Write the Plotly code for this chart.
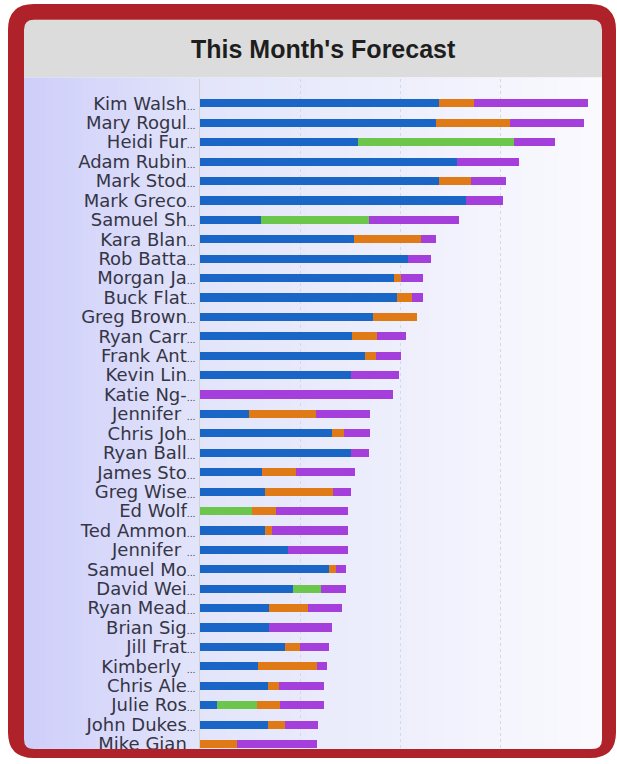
import plotly.graph_objects as go

# ---- data -------------------------------------------------------------
names = ["Kim Walsh", "Mary Rogul", "Heidi Fur", "Adam Rubin", "Mark Stod",
         "Mark Greco", "Samuel Sh", "Kara Blan", "Rob Batta", "Morgan Ja",
         "Buck Flat", "Greg Brown", "Ryan Carr", "Frank Ant", "Kevin Lin",
         "Katie Ng-", "Jennifer ", "Chris Joh", "Ryan Ball", "James Sto",
         "Greg Wise", "Ed Wolf", "Ted Ammon", "Jennifer ", "Samuel Mo",
         "David Wei", "Ryan Mead", "Brian Sig", "Jill Frat", "Kimberly ",
         "Chris Ale", "Julie Ros", "John Dukes", "Mike Gian"]

closed = [239, 236, 158, 257, 239, 266, 61, 154, 208, 194,
          197, 173, 152, 165, 151, 0, 49, 132, 151, 62,
          65, 0, 65, 88, 129, 93, 69, 69, 85, 58,
          68, 17, 68, 0]
commit = [0, 0, 156, 0, 0, 0, 108, 0, 0, 0,
          0, 0, 0, 0, 0, 0, 0, 0, 0, 0,
          0, 52, 0, 0, 0, 28, 0, 0, 0, 0,
          0, 40, 0, 0]
best_case = [35, 74, 0, 0, 32, 0, 0, 67, 0, 7,
             15, 44, 25, 11, 0, 0, 67, 12, 0, 34,
             68, 24, 7, 0, 7, 0, 39, 0, 15, 59,
             11, 23, 17, 37]
pipeline = [114, 74, 41, 62, 35, 37, 90, 15, 23, 22,
            11, 0, 29, 25, 48, 193, 54, 26, 18, 59,
            18, 72, 76, 60, 10, 25, 34, 63, 29, 10,
            45, 44, 33, 80]

series = [
    ("Closed", closed, "#1a66c6"),
    ("Commit", commit, "#6cc64c"),
    ("Best Case", best_case, "#e07a16"),
    ("Pipeline", pipeline, "#a43fdc"),
]

# ---- page geometry (pixels) ---------------------------------------------
W, H = 617, 764


def px(x):
    return x / W


def py(y):
    return 1 - y / H


def rounded_rect(x0, y0, x1, y1, r):
    pts = [
        f"M{px(x0 + r)},{py(y0)}",
        f"L{px(x1 - r)},{py(y0)}",
        f"Q{px(x1)},{py(y0)} {px(x1)},{py(y0 + r)}",
        f"L{px(x1)},{py(y1 - r)}",
        f"Q{px(x1)},{py(y1)} {px(x1 - r)},{py(y1)}",
        f"L{px(x0 + r)},{py(y1)}",
        f"Q{px(x0)},{py(y1)} {px(x0)},{py(y1 - r)}",
        f"L{px(x0)},{py(y0 + r)}",
        f"Q{px(x0)},{py(y0)} {px(x0 + r)},{py(y0)}",
        "Z",
    ]
    return " ".join(pts)


idx = list(range(len(names)))
# truncated names carry a small trailing ellipsis
tick_text = [n + "<span style='font-size:9px'>...</span>" for n in names]

fig = go.Figure()
for label, vals, color in series:
    fig.add_trace(go.Bar(
        y=idx, x=vals, name=label, orientation="h",
        marker=dict(color=color, line=dict(width=0)),
        width=0.42,
    ))

shapes = []

# title bar
shapes.append(dict(type="rect", xref="paper", yref="paper", layer="below",
                   x0=px(24), x1=px(602), y0=py(78), y1=py(20),
                   fillcolor="#dcdcdc", line=dict(width=0)))

# horizontal lavender-to-white gradient behind the chart
left_c = (206, 206, 250)
mid_c = (226, 228, 250)
right_c = (250, 250, 254)
n_strips = 80
x_start, x_end = 24, 602
for i in range(n_strips):
    xa = x_start + (x_end - x_start) * i / n_strips
    xb = x_start + (x_end - x_start) * (i + 1) / n_strips + 0.6
    t = (i + 0.5) / n_strips
    if t < 0.3:
        u = t / 0.3
        c = [left_c[k] + (mid_c[k] - left_c[k]) * u for k in range(3)]
    else:
        u = (t - 0.3) / 0.7
        c = [mid_c[k] + (right_c[k] - mid_c[k]) * u for k in range(3)]
    shapes.append(dict(type="rect", xref="paper", yref="paper", layer="below",
                       x0=px(xa), x1=px(min(xb, x_end)), y0=py(754), y1=py(78),
                       fillcolor="rgb(%d,%d,%d)" % tuple(int(round(v)) for v in c),
                       line=dict(width=0)))

# red card frame with a rounded window
frame_path = rounded_rect(8, 4, 616, 763, 26) + " " + rounded_rect(24, 20, 602, 754, 10)
shapes.append(dict(type="path", xref="paper", yref="paper", layer="above",
                   path=frame_path, fillcolor="#b0222a", line=dict(width=0),
                   fillrule="evenodd"))

fig.update_layout(
    width=W, height=H,
    margin=dict(l=0, r=0, t=0, b=0),
    paper_bgcolor="white",
    plot_bgcolor="rgba(0,0,0,0)",
    barmode="stack",
    showlegend=False,
    shapes=shapes,
    annotations=[dict(
        text="<b>This Month's Forecast</b>", xref="paper", yref="paper",
        x=px(323), y=py(49), xanchor="center", yanchor="middle", showarrow=False,
        font=dict(family="Liberation Sans, Arial, sans-serif", size=25, color="#1e1e1e"),
    )],
    xaxis=dict(
        domain=[px(200), px(600)], range=[0, 400],
        tickvals=[100, 200, 300], showticklabels=False,
        showgrid=True, gridcolor="#d6d8e4", griddash="dot", gridwidth=1,
        zeroline=False, showline=False, fixedrange=True,
    ),
    yaxis=dict(
        domain=[py(754), py(80)],
        range=[33.26, -1.23],
        tickmode="array", tickvals=idx, ticktext=tick_text,
        tickfont=dict(family="DejaVu Sans, sans-serif", size=18, color="#353545"),
        ticks="",
        showline=True, linecolor="#d4d0d8", linewidth=1,
        showgrid=False, zeroline=False, fixedrange=True,
    ),
    bargap=0.58,
)

fig.write_html("out.html")
